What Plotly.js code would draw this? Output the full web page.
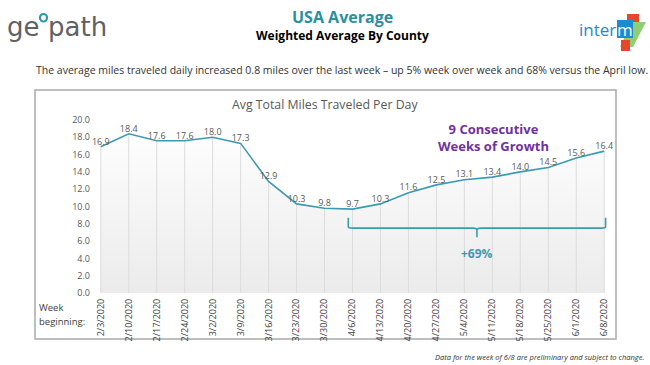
<!DOCTYPE html>
<html>
<head>
<meta charset="utf-8">
<script src="https://cdn.plot.ly/plotly-3.0.1.min.js"></script>
<style>html,body{margin:0;padding:0;background:#fff;}#chart{width:650px;height:365px;}</style>
</head>
<body>
<div id="chart"></div>
<script>
// ---- data ----
const weeks = ['2/3/2020','2/10/2020','2/17/2020','2/24/2020','3/2/2020','3/9/2020','3/16/2020','3/23/2020','3/30/2020','4/6/2020','4/13/2020','4/20/2020','4/27/2020','5/4/2020','5/11/2020','5/18/2020','5/25/2020','6/1/2020','6/8/2020'];
const miles = [16.9,18.4,17.6,17.6,18.0,17.3,12.9,10.3,9.8,9.7,10.3,11.6,12.5,13.1,13.4,14.0,14.5,15.6,16.4];
const yTicks = [0,2,4,6,8,10,12,14,16,18,20];
const growthStart = '4/6/2020';
const growthLabel = '+69%';

// ---- layout helpers (pixel -> paper) ----
const L = 98, R = 607, T = 120, B = 293;
const W = 650, H = 365;
const px = v => (v - L) / (R - L);
const py = v => (B - v) / (B - T);

const teal = '#3a9bb0';
const i0 = weeks.indexOf(growthStart) - 0.15;
const i1 = weeks.length - 1 + 0.05;
const mid = (i0 + i1) / 2;
const yb = 7.5, yt = 8.7, ym = 6.45, c = 0.15;
const bracket = `M ${i0},${yt} L ${i0},${yb+0.12} Q ${i0},${yb} ${i0+c},${yb} L ${mid-c},${yb} Q ${mid},${yb} ${mid},${yb-0.2} L ${mid},${ym} M ${mid},${yb-0.2} Q ${mid},${yb} ${mid+c},${yb} L ${i1-c},${yb} Q ${i1},${yb} ${i1},${yb+0.12} L ${i1},${yt}`;

const trace = {
  type: 'scatter',
  mode: 'lines+text',
  x: weeks,
  y: miles,
  text: miles.map(v => v.toFixed(1)),
  textposition: 'top center',
  textfont: {family: 'Open Sans', size: 9, color: '#595959'},
  line: {color: teal, width: 1.6},
  fill: 'tozeroy',
  fillgradient: {type: 'vertical', start: 0, stop: 20, colorscale: [[0, '#ebebeb'], [1, '#ffffff']]},
  error_y: {type: 'data', symmetric: false, array: miles.map(() => 0), arrayminus: miles, width: 0, color: '#dcdcdc', thickness: 1},
  cliponaxis: false,
  hoverinfo: 'skip'
};

const ann = (text, x, y, opts) => Object.assign({
  text: text, xref: 'paper', yref: 'paper', x: px(x), y: py(y),
  showarrow: false, xanchor: 'center', yanchor: 'middle'
}, opts || {});

const layout = {
  width: W, height: H,
  margin: {l: L, r: W - R, t: T, b: H - B, pad: 0},
  paper_bgcolor: '#ffffff',
  plot_bgcolor: 'rgba(0,0,0,0)',
  showlegend: false,
  xaxis: {
    type: 'category', range: [-0.1, weeks.length - 1 + 0.1],
    tickangle: -90, showgrid: false, zeroline: false, showline: false, ticks: '',
    tickfont: {family: 'Open Sans', size: 9, color: '#404040'}, ticklabelstandoff: 3, fixedrange: true
  },
  yaxis: {
    range: [0, 20], tickvals: yTicks, tickformat: '.1f',
    showgrid: false, zeroline: false, showline: false, ticks: '',
    tickfont: {family: 'Open Sans', size: 9, color: '#595959'}, ticklabelstandoff: 7, fixedrange: true
  },
  shapes: [
    {type: 'rect', xref: 'paper', yref: 'paper', x0: px(35), x1: px(616), y0: py(90), y1: py(339), line: {color: '#a9a9a9', width: 1.5}, layer: 'below'},
    {type: 'path', xref: 'x', yref: 'y', path: bracket, line: {color: teal, width: 1.6}},
    // geopath logo ring
    {type: 'circle', xref: 'paper', yref: 'paper', x0: px(40), x1: px(47), y0: py(14), y1: py(21.5), line: {color: '#2a9aa8', width: 2.2}},
    // intermx logo blocks
    {type: 'rect', xref: 'paper', yref: 'paper', x0: px(627), x1: px(639), y0: py(14), y1: py(24), fillcolor: '#e8452f', line: {width: 0}},
    {type: 'path', xref: 'paper', yref: 'paper', path: `M ${px(632)},${py(22)} L ${px(646)},${py(22)} L ${px(633)},${py(47)} L ${px(620)},${py(47)} Z`, fillcolor: '#8fcf73', line: {width: 0}},
    {type: 'rect', xref: 'paper', yref: 'paper', x0: px(617), x1: px(633), y0: py(20), y1: py(38), fillcolor: '#1e8ad0', line: {width: 0}},
    {type: 'rect', xref: 'paper', yref: 'paper', x0: px(621), x1: px(630), y0: py(40), y1: py(51), fillcolor: '#e8452f', line: {width: 0}}
  ],
  annotations: [
    ann('ge', 5, 27, {xanchor: 'left', font: {family: 'DejaVu Sans', size: 26, color: '#606163'}}),
    ann('path', 46, 27, {xanchor: 'left', font: {family: 'DejaVu Sans', size: 26, color: '#606163'}}),
    ann('inter', 597, 29, {font: {family: 'Open Sans', size: 17, color: '#1e8ad0'}}),
    ann('m', 625, 29, {font: {family: 'Open Sans', size: 17, color: '#ffffff'}}),
    ann('<b>USA Average</b>', 342, 17, {font: {family: 'Open Sans', size: 16, color: '#2a8fa0'}}),
    ann('<b>Weighted Average By County</b>', 342, 35, {font: {family: 'Open Sans', size: 12, color: '#000000'}}),
    ann('The average miles traveled daily increased 0.8 miles over the last week \u2013 up 5% week over week and 68% versus the April low.', 342, 70, {font: {family: 'Open Sans', size: 10.5, color: '#333333'}}),
    ann('Avg Total Miles Traveled Per Day', 325, 104, {font: {family: 'Open Sans', size: 12.3, color: '#595959'}}),
    ann('<b>9 Consecutive<br>Weeks of Growth</b>', 493, 137, {font: {family: 'Open Sans', size: 13, color: '#7030a0'}}),
    ann('<b>' + growthLabel + '</b>', 477, 253, {font: {family: 'Open Sans', size: 12, color: teal}}),
    ann('Week', 37, 307, {xanchor: 'left', font: {family: 'Open Sans', size: 9.5, color: '#404040'}}),
    ann('beginning:', 37, 321, {xanchor: 'left', font: {family: 'Open Sans', size: 9.5, color: '#404040'}}),
    ann('<i>Data for the week of 6/8 are preliminary and subject to change.</i>', 646, 357, {xanchor: 'right', font: {family: 'Open Sans', size: 7.5, color: '#333333'}})
  ]
};

Plotly.newPlot('chart', [trace], layout, {displayModeBar: false, staticPlot: true});
</script>
</body>
</html>
